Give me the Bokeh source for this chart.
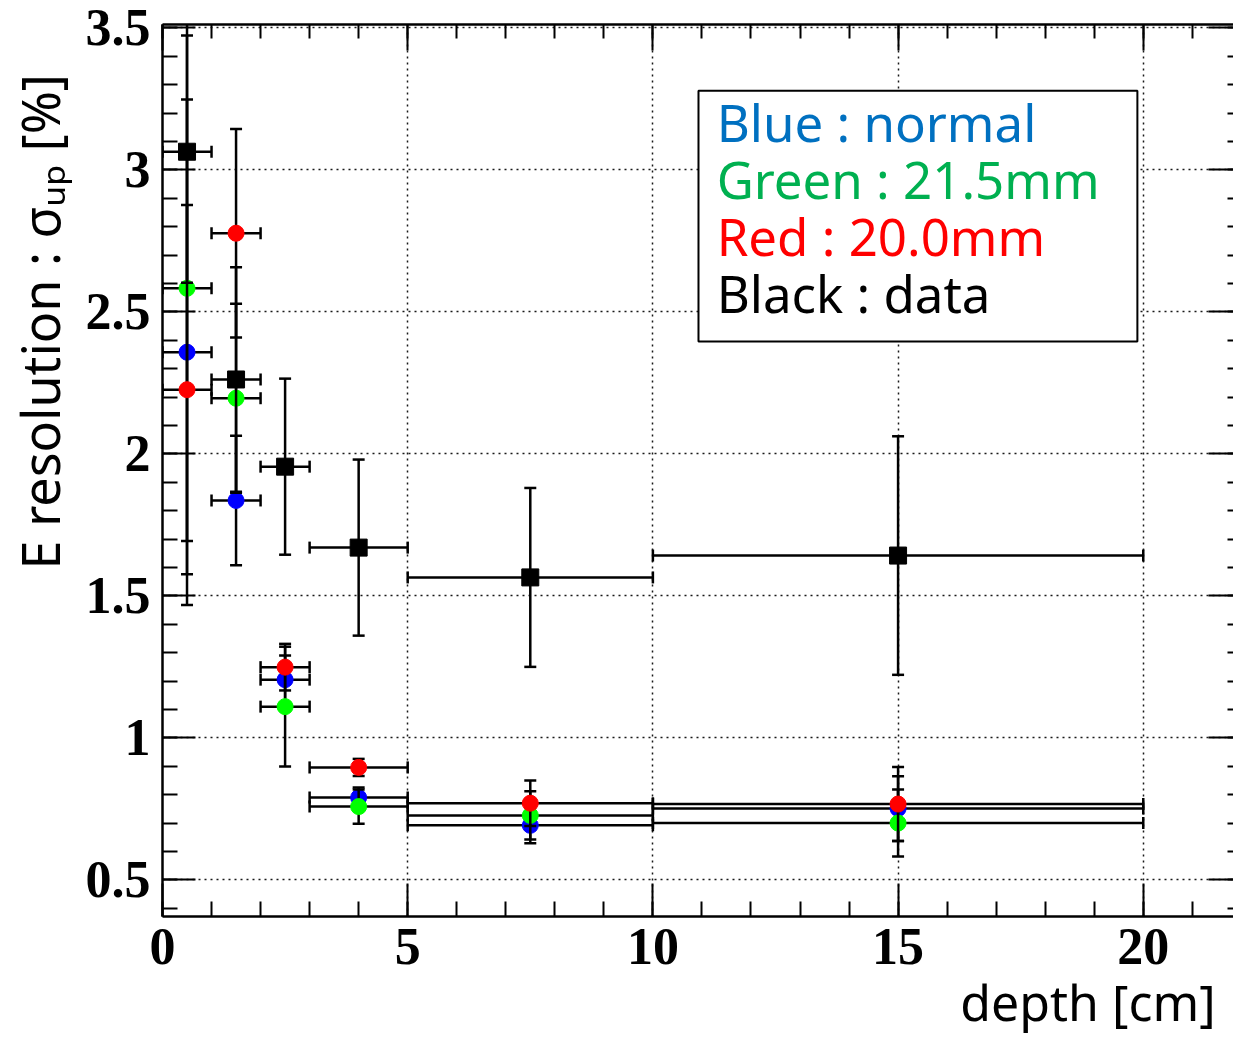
import numpy as np
from bokeh.plotting import figure
from bokeh.models import (ColumnDataSource, Label, BoxAnnotation, LinearAxis,
                          SingleIntervalTicker, Range1d, Grid)
from bokeh.embed import file_html
from bokeh.resources import INLINE

# ---------------- data ----------------
bin_lo = [0, 1, 2, 3, 5, 10]
bin_hi = [1, 2, 3, 5, 10, 20]
depth = [0.5, 1.5, 2.5, 4.0, 7.5, 15.0]

blue_res = [2.358, 1.836, 1.205, 0.790, 0.692, 0.751]
blue_err = [0.890, 0.228, 0.085, 0.035, 0.063, 0.114]
green_res = [2.583, 2.196, 1.110, 0.758, 0.727, 0.700]
green_err = [0.890, 0.333, 0.211, 0.060, 0.085, 0.118]
red_res = [2.226, 2.777, 1.249, 0.896, 0.770, 0.767]
red_err = [0.650, 0.367, 0.082, 0.030, 0.080, 0.130]
black_res = [3.064, 2.262, 1.955, 1.670, 1.565, 1.642]
black_err = [0.461, 0.395, 0.310, 0.310, 0.315, 0.420]

x_ticks_major = 5
y_ticks_major = 0.5

legend_lines = [("Blue : normal", "#0070C0"),
                ("Green : 21.5mm", "#00B050"),
                ("Red : 20.0mm", "#FF0000"),
                ("Black : data", "#000000")]

x_title = "depth [cm]"
y_title = "E resolution : σᵤₚ [%]"

NB = "\u00a0"

# ---------------- figure ----------------
W, H = 1233, 1039
p = figure(width=W, height=H, output_backend="svg", toolbar_location=None,
           x_range=Range1d(0, 21.84), y_range=Range1d(0.371, 3.512),
           x_axis_location=None, y_axis_location=None,
           min_border_left=162, min_border_right=0, min_border_top=24,
           min_border_bottom=123)
p.background_fill_color = "white"
p.border_fill_color = "white"
p.outline_line_color = None
p.xgrid.visible = False
p.ygrid.visible = False

xt = SingleIntervalTicker(interval=x_ticks_major, num_minor_ticks=5)
yt = SingleIntervalTicker(interval=y_ticks_major, num_minor_ticks=5)


def style_axis(ax, labels):
    ax.axis_line_width = 2.5
    ax.axis_line_color = "black"
    ax.major_tick_in = 33
    ax.major_tick_out = 0
    ax.minor_tick_in = 15
    ax.minor_tick_out = 0
    ax.major_tick_line_width = 2
    ax.minor_tick_line_width = 2
    ax.major_tick_line_color = "black"
    ax.minor_tick_line_color = "black"
    if labels:
        ax.major_label_text_font = "Liberation Serif"
        ax.major_label_text_font_style = "bold"
        ax.major_label_text_font_size = "52px"
        ax.major_label_text_color = "black"
    else:
        ax.major_label_text_font_size = "0px"
        ax.major_label_text_color = None
        ax.major_label_standoff = 0


bottom = LinearAxis(ticker=xt)
style_axis(bottom, True)
bottom.major_label_standoff = 12
bottom.axis_label = NB * 60 + x_title
bottom.axis_label_text_font = "Noto Sans"
bottom.axis_label_text_font_size = "50px"
bottom.axis_label_text_font_style = "normal"
bottom.axis_label_text_color = "black"
bottom.axis_label_standoff = 1
p.add_layout(bottom, "below")

left = LinearAxis(ticker=yt)
style_axis(left, True)
left.major_label_standoff = 12
left.axis_label = NB * 22 + y_title
left.axis_label_text_font = "Noto Sans"
left.axis_label_text_font_size = "52px"
left.axis_label_text_font_style = "normal"
left.axis_label_text_color = "black"
left.axis_label_standoff = 8
p.add_layout(left, "left")

top = LinearAxis(ticker=xt)
style_axis(top, False)
top.major_tick_in = 26
top.minor_tick_in = 14
p.add_layout(top, "above")

# right frame edge lies just past the picture edge in the reference:
# only the inner ends of its ticks are visible
right = LinearAxis(ticker=yt)
style_axis(right, False)
right.axis_line_color = None
right.major_tick_in = 25
right.minor_tick_in = 6
p.add_layout(right, "right")

p.add_layout(Grid(dimension=0, ticker=xt, grid_line_color="black",
                  grid_line_width=1.5, grid_line_dash="2 4", grid_line_alpha=0.9))
p.add_layout(Grid(dimension=1, ticker=yt, grid_line_color="black",
                  grid_line_width=1.5, grid_line_dash="2 4", grid_line_alpha=0.9))

# ---------------- data series ----------------
series = [(blue_res, blue_err, "#0000FF", "circle", 16),
          (green_res, green_err, "#00FF00", "circle", 16),
          (red_res, red_err, "#FF0000", "circle", 16),
          (black_res, black_err, "#000000", "square", 17)]

for res, err, col, mk, sz in series:
    r = np.array(res)
    e = np.array(err)
    src = ColumnDataSource(dict(x=depth, y=res, lo=bin_lo, hi=bin_hi,
                                ylo=list(r - e), yhi=list(r + e)))
    p.segment(x0="x", y0="ylo", x1="x", y1="yhi", source=src,
              line_color="black", line_width=2.5)
    p.segment(x0="lo", y0="y", x1="hi", y1="y", source=src,
              line_color="black", line_width=2.5)
    for cx, cy, ang in (("x", "ylo", 0.0), ("x", "yhi", 0.0),
                        ("lo", "y", np.pi / 2), ("hi", "y", np.pi / 2)):
        p.scatter(x=cx, y=cy, source=src, marker="dash", size=12, angle=ang,
                  line_color="black", line_width=2.5)
    p.scatter(x="x", y="y", source=src, marker=mk, size=sz,
              fill_color=col, line_color=col, line_width=1)

# ---------------- legend box ----------------
p.add_layout(BoxAnnotation(left=10.93, right=19.88, top=3.279, bottom=2.396,
                           fill_color="white", fill_alpha=1.0,
                           line_color="black", line_alpha=1.0, line_width=2))
legend_y = [3.167, 2.969, 2.768, 2.566]
for (txt, col), yy in zip(legend_lines, legend_y):
    p.add_layout(Label(x=11.30, y=yy, text=txt, text_color=col,
                       text_font="Noto Sans", text_font_size="51px",
                       text_baseline="alphabetic", text_align="left"))

open("out.html", "w").write(file_html(p, INLINE))
